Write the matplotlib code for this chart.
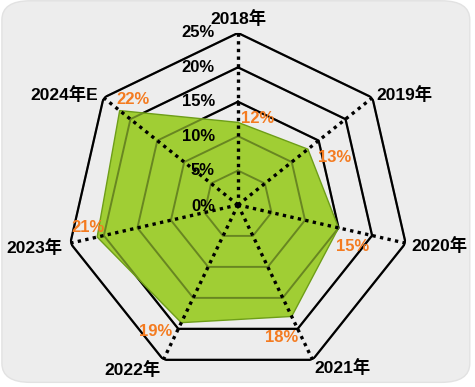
import numpy as np
import matplotlib
matplotlib.use("Agg")
import matplotlib.pyplot as plt
from matplotlib.patches import FancyBboxPatch

plt.rcParams['font.family'] = ['Liberation Sans', 'Noto Sans CJK SC', 'DejaVu Sans']

categories = ['2018年', '2019年', '2020年', '2021年', '2022年', '2023年', '2024年E']
values = [12, 13, 15, 18, 19, 21, 22]
ring_levels = [5, 10, 15, 20, 25]
ring_labels = ['5%', '10%', '15%', '20%', '25%']
rmax = 25

# label offsets in pixels (dx, dy with dy up)
cat_offsets = [(0, 14), (4, 3), (6, -2), (2, -8), (-3, -10), (-8, -4), (-6, 3)]
cat_ha = ['center', 'left', 'left', 'left', 'right', 'right', 'right']
val_offsets = [(20, 4), (27, -8), (14, -19), (-10, -21), (-26, -9), (-9, 10), (13, 11)]

n = len(categories)
theta = np.arange(n) * 2 * np.pi / n
theta_c = np.append(theta, theta[0])

fig = plt.figure(figsize=(4.75, 3.87), dpi=100, facecolor='white')
bg = FancyBboxPatch((0.004, 0.012), 0.985, 0.986, boxstyle='round,pad=0,rounding_size=0.06',
                    transform=fig.transFigure, facecolor='#EDEDED', edgecolor='#E2E2E2',
                    linewidth=1, zorder=-10, mutation_aspect=387/475)
fig.add_artist(bg)

ax = fig.add_axes([0.139, 0.026, 0.724, 0.889], projection='polar')
ax.set_zorder(1)
ax.set_facecolor('none')
ax.set_theta_offset(np.pi / 2)
ax.set_theta_direction(-1)
ax.set_ylim(0, rmax)
ax.grid(False)
ax.spines['polar'].set_visible(False)
ax.set_xticks([])
ax.set_yticks([])

# ring polygons (black under, translucent over the fill)
for lvl in ring_levels:
    ax.plot(theta_c, [lvl] * (n + 1), color='black', linewidth=1.6, zorder=1)

# data fill
vals_c = values + [values[0]]
ax.fill(theta_c, vals_c, facecolor='#A0CE34', zorder=2)
for lvl in ring_levels:
    ax.plot(theta_c, [lvl] * (n + 1), color='black', alpha=0.35, linewidth=1.4, zorder=2.5)
ax.plot(theta_c, vals_c, color='#6E9E18', linewidth=1.0, zorder=3)

# spokes
for t in theta:
    ax.plot([t, t], [0, rmax], color='black', linewidth=2.4,
            linestyle=(0, (1.0, 1.3)), zorder=4)

# ring labels
ax.annotate('0%', xy=(0, 0), xytext=(-23, -2), textcoords='offset pixels',
            ha='right', va='center', fontsize=12, fontweight='bold', zorder=5)
for lvl, lab in zip(ring_levels, ring_labels):
    ax.annotate(lab, xy=(0, lvl), xytext=(-23, 0), textcoords='offset pixels',
                ha='right', va='center', fontsize=12, fontweight='bold', zorder=5)

# category labels
for t, cat, off, ha in zip(theta, categories, cat_offsets, cat_ha):
    ax.annotate(cat, xy=(t, rmax), xytext=off, textcoords='offset pixels',
                ha=ha, va='center', fontsize=12.5, fontweight='bold', zorder=5,
                annotation_clip=False)

# value labels
for t, v, off in zip(theta, values, val_offsets):
    ax.annotate(f'{v}%', xy=(t, v), xytext=off, textcoords='offset pixels',
                ha='center', va='center', fontsize=12, fontweight='bold',
                color='#F47B20', zorder=6)

fig.savefig('out.png', dpi=100, facecolor=fig.get_facecolor())
